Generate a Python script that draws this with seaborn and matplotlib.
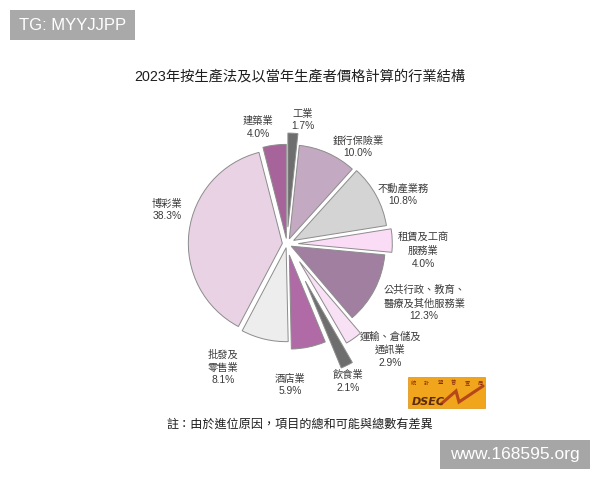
import numpy as np
import matplotlib
matplotlib.use("Agg")
import matplotlib.pyplot as plt
from matplotlib.patches import Rectangle
import seaborn as sns

# ---- data ----
industries = ["工業", "銀行保險業", "不動產業務", "租賃及工商\n服務業", "公共行政、教育、\n醫療及其他服務業",
              "運輸、倉儲及\n通訊業", "飲食業", "酒店業", "批發及\n零售業", "博彩業", "建築業"]
shares = [1.7, 10.0, 10.8, 4.0, 12.3, 2.9, 2.1, 5.9, 8.1, 38.3, 4.0]
title = "2023年按生產法及以當年生產者價格計算的行業結構"
note = "註：由於進位原因，項目的總和可能與總數有差異"

# ---- style ----
colors = ["#6e6e6e", "#c3a9c1", "#d4d4d4", "#fbdcf6", "#a07fa0",
          "#f8e0f5", "#6e6e6e", "#b06aa6", "#ededed", "#e8d2e4", "#a7649a"]
explode = [0.18, 0.06, 0.08, 0.12, 0.05, 0.23, 0.44, 0.12, 0.04, 0.05, 0.06]
label_dist = [1.33, 1.28, 1.34, 1.45, 1.59, 1.57, 1.60, 1.50, 1.48, 1.33, 1.28]
label_nudge = [-4.3, -12.1, -5.6, -4.8, 4.1, 9.0, -2.3, -10.7, -14.2, -9.1, 6.7]

sns.set_theme(style="white")
plt.rcParams["font.family"] = ["Liberation Sans", "Noto Sans CJK TC", "DejaVu Sans"]

W, H = 600, 480
fig = plt.figure(figsize=(6, 4.8), dpi=100)
fig.patch.set_facecolor("white")
ax = fig.add_axes([0, 0, 1, 1])

cx, cy, R = 287, H - 244, 94
wedges, _ = ax.pie(shares, explode=[e * R for e in explode], colors=colors, startangle=90,
                   counterclock=False, radius=R, center=(cx, cy),
                   wedgeprops=dict(edgecolor="#8c8c8c", linewidth=0.7))

for w, name, val, d, nd in zip(wedges, industries, shares, label_dist, label_nudge):
    mid = np.deg2rad((w.theta1 + w.theta2) / 2 + nd)
    x = cx + d * R * np.cos(mid)
    y = cy + d * R * np.sin(mid)
    ax.text(x, y, f"{name}\n{val:.1f}%", ha="center", va="center",
            fontsize=7.4, color="#3a3a3a", linespacing=1.35)

ax.set_xlim(0, W)
ax.set_ylim(0, H)
ax.set_aspect("equal")
ax.axis("off")

# title and note
ax.text(300, H - 77, title, ha="center", va="center", fontsize=10.3, color="#1e1e1e")
ax.text(300, H - 425, note, ha="center", va="center", fontsize=8.7, color="#1e1e1e")

# watermark boxes
ax.add_patch(Rectangle((10, H - 40), 125, 30, facecolor="#a9a9a9", edgecolor="none"))
ax.text(72.5, H - 25, "TG: MYYJJPP", ha="center", va="center", fontsize=12, color="white")
ax.add_patch(Rectangle((440, H - 469), 150, 29, facecolor="#a6a6a6", edgecolor="none"))
ax.text(515, H - 454.5, "www.168595.org", ha="center", va="center", fontsize=12.5, color="white")

# DSEC logo
ax.add_patch(Rectangle((408, H - 408), 77, 31, facecolor="#f0a51c", edgecolor="#e09010", linewidth=0.5))
for i, ch in enumerate("統計暨普查局"):
    ax.text(413 + i * 13.5, H - 383, ch, ha="center", va="center", fontsize=3.8, color="#8b2a0a")
ax.text(412, H - 402, "DSEC", ha="left", va="center", fontsize=8, fontweight="bold",
        fontstyle="italic", color="#5a2a0c", family="DejaVu Sans")
zx = [441, 456, 459, 483]
zy = [H - 404, H - 391, H - 402, H - 386]
ax.plot(zx, zy, color="#b5471a", linewidth=2.2, solid_joinstyle="miter")

fig.savefig("out.png", dpi=100, facecolor="white")
